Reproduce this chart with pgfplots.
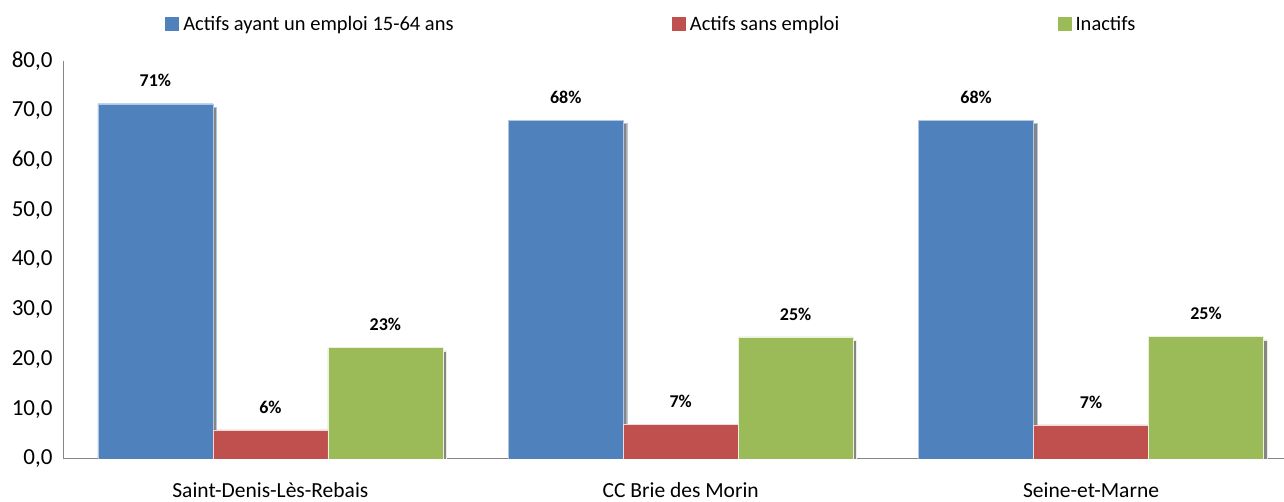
\documentclass[border=0pt]{standalone}
\usepackage{fontspec}
\setmainfont{Carlito}
\usepackage{pgfplots}
\pgfplotsset{compat=1.18}
\usetikzlibrary{shadows}

\definecolor{cblue}{HTML}{4F81BD}
\definecolor{cred}{HTML}{C0504D}
\definecolor{cgreen}{HTML}{9BBB59}
\definecolor{axgray}{HTML}{868686}

\tikzset{barshadow/.style={drop shadow={shadow xshift=3.5bp, shadow yshift=-3.5bp, fill=black!48, opacity=1}}}
\makeatletter
\tikzset{noshadow/.code={\def\tikz@preactions{}}}
\makeatother
% legend square without the bar shadow
\newcommand{\legsq}[1]{\fill[noshadow, #1] (0bp,-6.5bp) rectangle (13bp,6.5bp); \path (16bp,0bp);}

\begin{document}
\begin{tikzpicture}
\begin{axis}[
    name=ax,
    scale only axis,
    width=1220bp, height=398bp,
    xmin=-0.503, xmax=2.469,
    ymin=0, ymax=80,
    ybar=0bp, bar width=115bp,
    axis x line*=bottom, axis y line*=left,
    axis line style={draw=axgray, line width=1bp},
    major tick length=0pt,
    xtick={0,1,2},
    xticklabels={Saint-Denis-Lès-Rebais, CC Brie des Morin, Seine-et-Marne},
    xticklabel style={font=\fontsize{21.5bp}{24bp}\selectfont, yshift=-20bp},
    ytick={0,10,...,80},
    yticklabel style={font=\fontsize{23bp}{26bp}\selectfont, xshift=-8bp,
        /pgf/number format/.cd, fixed, fixed zerofill, precision=1, use comma, assume math mode=true},
    nodes near coords,
    point meta=explicit symbolic,
    every node near coord/.append style={font=\bfseries\fontsize{18bp}{20bp}\selectfont,
        text=black, anchor=center, yshift=23bp},
    legend columns=3,
    legend style={at={(0.4815,1.093)}, anchor=center, draw=none, fill=none,
        font=\fontsize{20.5bp}{23bp}\selectfont,
        nodes={inner sep=1.5bp},
        /tikz/every even column/.append style={column sep=217bp}},
]
\addplot[fill=cblue, draw=cblue!45!white, barshadow,
    legend image code/.code={\legsq{cblue}}]
    coordinates {(0,71.4)[71\%] (1,68.1)[68\%] (2,68.1)[68\%]};
\addlegendentry{Actifs ayant un emploi 15-64 ans}
\addplot[fill=cred, draw=white!80!cred, barshadow,
    legend image code/.code={\legsq{cred}}]
    coordinates {(0,5.8)[6\%] (1,7.0)[7\%] (2,6.8)[7\%]};
\addlegendentry{Actifs sans emploi}
\addplot[fill=cgreen, draw=white!80!cgreen, barshadow,
    legend image code/.code={\legsq{cgreen}}]
    coordinates {(0,22.4)[23\%] (1,24.5)[25\%] (2,24.6)[25\%]};
\addlegendentry{Inactifs}
\end{axis}
\path ([xshift=-64bp,yshift=-43bp]ax.south west) rectangle ([yshift=61bp]ax.north east);
\end{tikzpicture}
\end{document}
